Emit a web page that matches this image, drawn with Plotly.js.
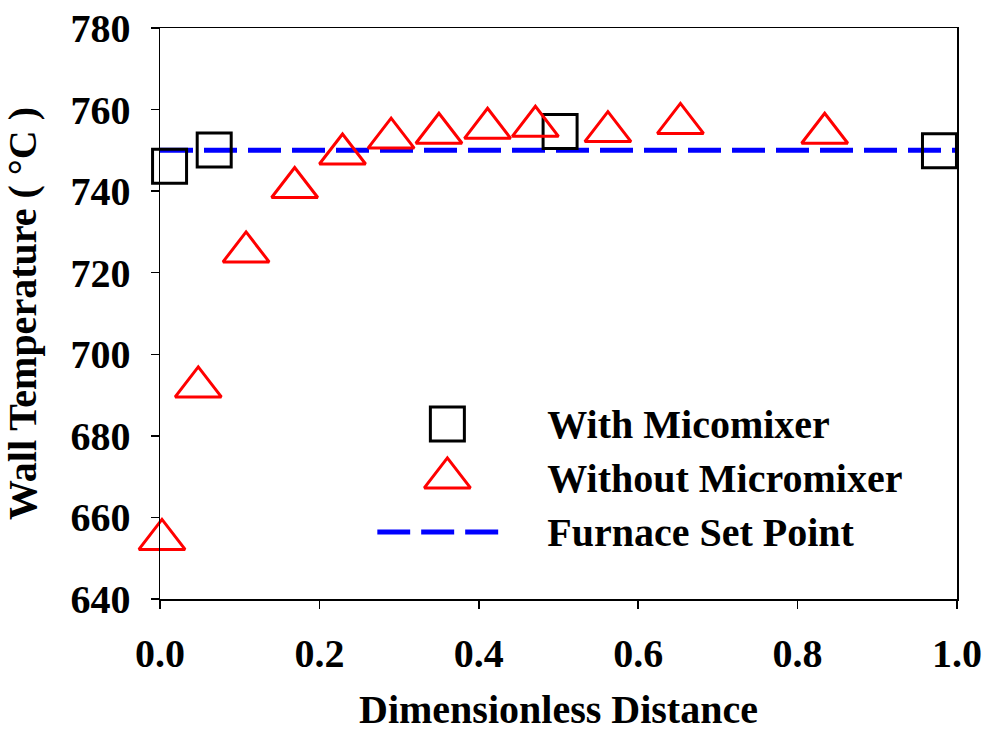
<!DOCTYPE html>
<html>
<head>
<meta charset="utf-8">
<script src="https://cdn.plot.ly/plotly-3.0.1.min.js"></script>
<style>html,body{margin:0;padding:0;background:#fff;}#chart{width:985px;height:732px;}</style>
</head>
<body>
<div id="chart"></div>
<script>
// Data
const withX = [0.012, 0.068, 0.502, 0.978];
const withY = [746.1, 750.1, 754.6, 749.9];
const withoutX = [0.0025, 0.048, 0.108, 0.169, 0.229, 0.290, 0.350, 0.411, 0.471, 0.562, 0.653, 0.834];
const withoutY = [654.6, 692.0, 725.1, 740.9, 749.1, 753.0, 754.2, 755.4, 755.9, 754.6, 756.6, 754.2];
const setX = [0, 1];
const setY = [750, 750];
const seriesNames = ["With Micomixer", "Without Micromixer", "Furnace Set Point"];
const xTicks = [0, 0.2, 0.4, 0.6, 0.8, 1.0];
const xTickText = ["0.0", "0.2", "0.4", "0.6", "0.8", "1.0"];
const yTicks = [640, 660, 680, 700, 720, 740, 760, 780];

const FONT = "'Liberation Serif', 'Times New Roman', serif";
const FS = 40;

const squareMarker = {symbol: 'square-open', size: 34, color: '#000000', line: {width: 3, color: '#000000'}};
const triMarker = {symbol: 'triangle-up-open', size: 40, color: '#ff0000', line: {width: 3, color: '#ff0000'}};
const setLine = {color: '#0000ff', width: 5, dash: '33px,11px'};

const traces = [
  // main plot
  {x: setX, y: setY, name: seriesNames[2], mode: 'lines', line: setLine, hoverinfo: 'skip'},
  {x: withX, y: withY, name: seriesNames[0], mode: 'markers', marker: squareMarker, cliponaxis: false},
  {x: withoutX, y: withoutY, name: seriesNames[1], mode: 'markers', marker: triMarker, cliponaxis: false},
  // legend, drawn as a small category axis inside the plot
  {x: [0.57], y: [seriesNames[0]], xaxis: 'x2', yaxis: 'y2', mode: 'markers', marker: squareMarker, cliponaxis: false, hoverinfo: 'skip'},
  {x: [0.57], y: [seriesNames[1]], xaxis: 'x2', yaxis: 'y2', mode: 'markers', marker: triMarker, cliponaxis: false, hoverinfo: 'skip'},
  {x: [0, 1], y: [seriesNames[2], seriesNames[2]], xaxis: 'x2', yaxis: 'y2', mode: 'lines', line: setLine, cliponaxis: false, hoverinfo: 'skip'}
];

const axisCommon = {
  showline: true, linecolor: '#000000', linewidth: 1.5, mirror: true,
  ticks: 'outside', ticklen: 8, tickwidth: 1.5, tickcolor: '#000000',
  showgrid: false, zeroline: false,
  tickfont: {family: FONT, size: FS, color: '#000000', weight: 'bold'}
};

const layout = {
  width: 985, height: 732,
  paper_bgcolor: '#ffffff', plot_bgcolor: '#ffffff',
  margin: {l: 160, r: 28, t: 28, b: 133},
  font: {family: FONT, color: '#000000', weight: 'bold'},
  showlegend: false,
  xaxis: Object.assign({}, axisCommon, {
    domain: [0, 1], range: [0, 1], tickvals: xTicks, ticktext: xTickText, ticklabelstandoff: 10,
    title: {text: 'Dimensionless Distance', font: {family: FONT, size: FS, color: '#000000', weight: 'bold'}, standoff: 28}
  }),
  yaxis: Object.assign({}, axisCommon, {
    domain: [0, 1], range: [640, 780], tickvals: yTicks, ticklabelstandoff: 12,
    title: {text: 'Wall Temperature ( °C )', font: {family: FONT, size: FS, color: '#000000', weight: 'bold'}, standoff: 26}
  }),
  xaxis2: {
    domain: [0.2725, 0.427], range: [0, 1], anchor: 'y2', visible: false, fixedrange: true
  },
  yaxis2: {
    domain: [0.07, 0.354], anchor: 'x2', type: 'category',
    categoryorder: 'array', categoryarray: [seriesNames[2], seriesNames[1], seriesNames[0]],
    range: [-0.5, 2.5], side: 'right', showline: false, ticks: '', showgrid: false, zeroline: false,
    ticklabelstandoff: 46, fixedrange: true,
    tickfont: {family: FONT, size: FS, color: '#000000', weight: 'bold'}
  }
};

Plotly.newPlot('chart', traces, layout, {displayModeBar: false, staticPlot: true});
</script>
</body>
</html>
